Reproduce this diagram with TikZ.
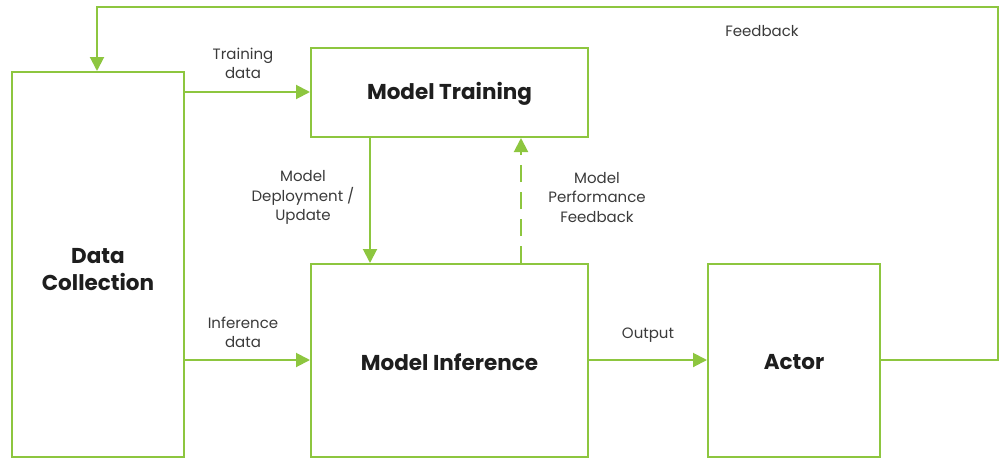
\documentclass[tikz,border=0pt]{standalone}
\usepackage{fontspec}
\setmainfont{Poppins}
\usetikzlibrary{arrows.meta}
\definecolor{grn}{HTML}{8DC63F}
\definecolor{lbl}{HTML}{3A3A3A}
\definecolor{ttl}{HTML}{1E1E1E}
\tikzset{
  box/.style={draw=grn, line width=2pt, fill=white, inner sep=0pt},
  title/.style={font=\fontsize{21.5}{27}\selectfont\bfseries, text=ttl, align=center, inner sep=0pt},
  conn/.style={draw=grn, line width=2pt, -{Triangle[length=14pt,width=14pt]}},
  lab/.style={font=\fontsize{15}{19.5}\selectfont, text=lbl, align=center, inner sep=0pt}
}
\begin{document}
\begin{tikzpicture}[x=1pt,y=-1pt]
\useasboundingbox (0,0) rectangle (1001,461);
\node[box, minimum width=172pt, minimum height=385pt] (dc) at (98,264.5) {};
\node[box, minimum width=277pt, minimum height=89pt] (mt) at (449.5,92.5) {};
\node[box, minimum width=277pt, minimum height=193pt] (mi) at (449.5,360.5) {};
\node[box, minimum width=172pt, minimum height=193pt] (ac) at (794,360.5) {};
\node[title] (tdc) at ([yshift=-5.5pt]dc.center) {Data\\Collection};
\node[title] (tmt) at ([yshift=-1.5pt]mt.center) {Model Training};
\node[title] (tmi) at ([yshift=-1.5pt]mi.center) {Model Inference};
\node[title] (tac) at ([yshift=-1.5pt]ac.center) {Actor};
\coordinate (fb1) at (998,360);
\coordinate (fb2) at (998,7);
\coordinate (fb3) at (97,7);
\draw[conn] (ac.east |- 0,360) -- (fb1) -- (fb2) -- (fb3) -- (fb3 |- dc.north);
\draw[conn] (dc.east |- 0,92) -- (mt.west |- 0,92);
\draw[conn] (dc.east |- 0,360) -- (mi.west |- 0,360);
\draw[conn] (mt.south -| 370,0) -- (mi.north -| 370,0);
\draw[conn, dash pattern=on 17pt off 10pt] (mi.north -| 521,0) -- (mt.south -| 521,0);
\draw[conn] (mi.east |- 0,360) -- (ac.west |- 0,360);
\node[lab] (l1) at (243,63.5) {Training\\data};
\node[lab] (l2) at (243,332.5) {Inference\\data};
\node[lab] (l3) at (303,197.5) {Model\\Deployment /\\Update};
\node[lab] (l4) at (597,197.5) {Model\\Performance\\Feedback};
\node[lab] (l5) at (648,335.5) {Output};
\node[lab] (l6) at (762,31.5) {Feedback};
\end{tikzpicture}
\end{document}
